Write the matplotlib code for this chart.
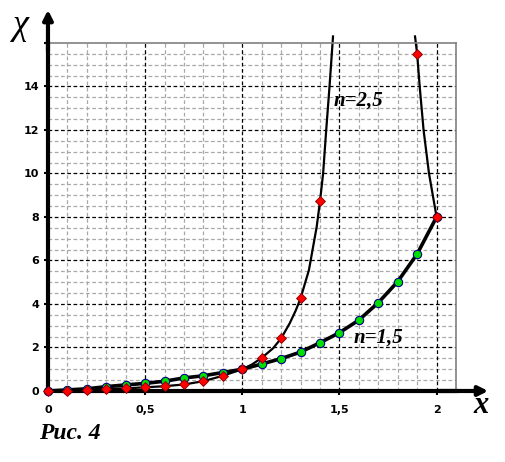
import numpy as np
import matplotlib
matplotlib.use("Agg")
import matplotlib.pyplot as plt

# n = 1.5 (green circles)
x_n15 = [0, 0.1, 0.2, 0.3, 0.4, 0.5, 0.6, 0.7, 0.8, 0.9, 1.0,
         1.1, 1.2, 1.3, 1.4, 1.5, 1.6, 1.7, 1.8, 1.9, 2.0]
y_n15 = [0, 0.05, 0.1, 0.2, 0.28, 0.35, 0.45, 0.6, 0.7, 0.85, 1.0,
         1.24, 1.49, 1.79, 2.22, 2.68, 3.26, 4.06, 5.03, 6.3, 8.0]

# n = 2.5 (red diamonds)
x_n25 = [0, 0.1, 0.2, 0.3, 0.4, 0.5, 0.6, 0.7, 0.8, 0.9, 1.0,
         1.1, 1.2, 1.3, 1.4, 1.9, 2.0]
y_n25 = [0, 0.02, 0.05, 0.1, 0.12, 0.17, 0.22, 0.3, 0.45, 0.7, 1.0,
         1.52, 2.42, 4.26, 8.72, 15.5, 8.0]

# curve of n = 2.5 (two branches leaving the top)
x_n25_left = [0, 0.1, 0.2, 0.3, 0.4, 0.5, 0.6, 0.7, 0.8, 0.9, 1.0,
              1.05, 1.1, 1.158, 1.2, 1.244, 1.275, 1.3, 1.343, 1.383, 1.4,
              1.416, 1.432, 1.449, 1.467]
y_n25_left = [0, 0.02, 0.05, 0.1, 0.12, 0.17, 0.22, 0.3, 0.45, 0.7, 1.0,
              1.22, 1.52, 1.96, 2.42, 3.11, 3.7, 4.26, 5.56, 7.55, 8.72,
              10.0, 12.0, 14.0, 16.3]
x_n25_right = [1.889, 1.9, 1.913, 1.933, 1.961, 2.0]
y_n25_right = [16.3, 15.5, 14.0, 12.0, 10.0, 8.0]

x_ticks = [0, 0.5, 1, 1.5, 2]
x_tick_labels = ["0", "0,5", "1", "1,5", "2"]
y_ticks = [0, 2, 4, 6, 8, 10, 12, 14]

fig = plt.figure(figsize=(5.05, 4.62), dpi=100)
ax = fig.add_axes([0.095, 0.1537, 0.808, 0.7533])
ax.set_xlim(0, 2.1)
ax.set_ylim(0, 16)

# grid
for v in np.arange(0.1, 2.1, 0.1):
    if abs(v * 2 - round(v * 2)) > 1e-6:
        ax.axvline(v, color="#a8a8a8", lw=0.9, ls=(0, (3, 2)), zorder=0)
for v in np.arange(0.5, 16, 0.5):
    if abs(v / 2 - round(v / 2)) > 1e-6:
        ax.axhline(v, color="#a8a8a8", lw=0.9, ls=(0, (3, 2)), zorder=0)
for v in [0.5, 1, 1.5, 2]:
    ax.axvline(v, color="black", lw=0.9, ls=(0, (3, 2)), zorder=0.5)
for v in [2, 4, 6, 8, 10, 12, 14]:
    ax.axhline(v, color="black", lw=0.9, ls=(0, (3, 2)), zorder=0.5)

# curves
ax.plot(x_n15, y_n15, color="black", lw=2.6, zorder=2, clip_on=False,
        solid_joinstyle="round")
ax.plot(x_n25_left, y_n25_left, color="black", lw=1.6, zorder=2,
        clip_on=False, solid_joinstyle="round")
ax.plot(x_n25_right, y_n25_right, color="black", lw=1.6, zorder=2,
        clip_on=False, solid_joinstyle="round")
ax.plot(x_n15, y_n15, ls="none", marker="o", ms=6, mfc="#00e000",
        mec="#000080", mew=0.8, zorder=3, clip_on=False)
ax.plot(x_n25, y_n25, ls="none", marker="D", ms=5.5, mfc="#ff0000",
        mec="#800000", mew=0.6, zorder=4, clip_on=False)

# frame
for side in ["top", "right"]:
    ax.spines[side].set_color("#808080")
    ax.spines[side].set_linewidth(1.2)
for side in ["left", "bottom"]:
    ax.spines[side].set_color("black")
    ax.spines[side].set_linewidth(3)

ax.annotate("", xy=(2.28, 0), xytext=(2.0, 0), xycoords="data",
            arrowprops=dict(arrowstyle="-|>", color="black", lw=3,
                            mutation_scale=14), annotation_clip=False)
ax.annotate("", xy=(0, 17.65), xytext=(0, 15.5), xycoords="data",
            arrowprops=dict(arrowstyle="-|>", color="black", lw=3,
                            mutation_scale=14), annotation_clip=False)

ax.set_xticks(x_ticks)
ax.set_xticklabels(x_tick_labels)
ax.set_yticks(y_ticks + [16])
ax.set_yticklabels([str(v) for v in y_ticks] + [""])
ax.tick_params(axis="both", direction="out", length=3, width=1.5,
               labelsize=8, color="black")
ax.tick_params(axis="x", pad=7)
for lab in ax.get_xticklabels() + ax.get_yticklabels():
    lab.set_fontweight("bold")
    lab.set_fontfamily("DejaVu Sans")

serif = "Liberation Serif"
fig.text(0.042, 0.944, "χ", fontsize=26, fontstyle="italic",
         family=serif, ha="center", va="center")
fig.text(0.952, 0.122, "x", fontsize=22, fontstyle="italic",
         fontweight="bold", family=serif, ha="center", va="center")
fig.text(0.078, 0.062, "Рис. 4", fontsize=17, fontstyle="italic",
         fontweight="bold", family=serif, ha="left", va="center")
ax.text(1.47, 13.35, "n=2,5", fontsize=15, fontstyle="italic",
        fontweight="bold", family=serif, ha="left", va="center")
ax.text(1.575, 2.45, "n=1,5", fontsize=15, fontstyle="italic",
        fontweight="bold", family=serif, ha="left", va="center")

fig.savefig("out.png", dpi=100)
